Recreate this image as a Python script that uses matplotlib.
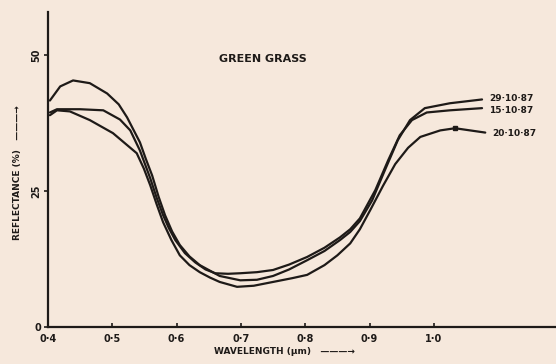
import matplotlib
matplotlib.use("Agg")
import matplotlib.pyplot as plt

# ── Data ──────────────────────────────────────────────────────────────────────
wl_a = [0.403, 0.419, 0.439, 0.465, 0.492, 0.510, 0.523, 0.543, 0.552, 0.562,
        0.572, 0.582, 0.593, 0.605, 0.620, 0.636, 0.667, 0.699, 0.725, 0.750,
        0.775, 0.803, 0.830, 0.854, 0.870, 0.885, 0.904, 0.924, 0.944, 0.963,
        0.986, 1.025, 1.075]
refl_a = [41.7, 44.3, 45.4, 44.9, 43.0, 41.0, 38.6, 34.0, 31.0, 27.9,
          24.0, 20.6, 17.6, 15.1, 13.0, 11.4, 9.4, 8.6, 8.7, 9.4,
          10.6, 12.3, 14.0, 16.0, 17.5, 19.5, 23.3, 28.9, 34.4, 38.1,
          40.3, 41.2, 41.9]

wl_b = [0.403, 0.414, 0.450, 0.486, 0.512, 0.528, 0.543, 0.559, 0.569, 0.579,
        0.588, 0.598, 0.613, 0.629, 0.645, 0.660, 0.680, 0.699, 0.725, 0.750,
        0.775, 0.803, 0.830, 0.854, 0.870, 0.885, 0.909, 0.929, 0.947, 0.966,
        0.989, 1.025, 1.075]
refl_b = [39.5, 40.1, 40.1, 39.9, 38.2, 36.2, 32.5, 27.4, 23.8, 20.6,
          18.2, 16.0, 13.6, 11.9, 10.6, 9.9, 9.8, 9.9, 10.1, 10.5,
          11.5, 12.9, 14.6, 16.5, 18.0, 20.0, 25.2, 30.7, 35.3, 38.1,
          39.5, 39.9, 40.3]

wl_c = [0.403, 0.414, 0.434, 0.465, 0.501, 0.538, 0.549, 0.559, 0.569, 0.579,
        0.592, 0.605, 0.620, 0.636, 0.652, 0.667, 0.694, 0.720, 0.750, 0.780,
        0.803, 0.830, 0.850, 0.870, 0.885, 0.901, 0.921, 0.940, 0.960, 0.979,
        1.010, 1.033, 1.080]
refl_c = [39.0, 39.9, 39.7, 38.1, 35.7, 32.0, 29.2, 26.1, 22.6, 19.3,
          16.0, 13.2, 11.4, 10.1, 9.1, 8.3, 7.4, 7.6, 8.3, 9.0,
          9.6, 11.4, 13.2, 15.4, 18.0, 21.5, 26.0, 30.0, 33.0, 35.0,
          36.2, 36.6, 35.8]

dates = ["29·10·87", "15·10·87", "20·10·87"]
xticks = [0.4, 0.5, 0.6, 0.7, 0.8, 0.9, 1.0]
xtick_labels = ["0·4", "0·5", "0·6", "0·7", "0·8", "0·9", "1·0"]
yticks = [0, 25, 50]

# ── Style ─────────────────────────────────────────────────────────────────────
PAPER = "#f6e8dc"
INK = "#1e1a18"
FONT = ["Liberation Sans Narrow", "DejaVu Sans"]
plt.rcParams["font.family"] = FONT

fig = plt.figure(figsize=(5.56, 3.64), dpi=100, facecolor=PAPER)
ax = fig.add_axes([0.0863, 0.1016, 0.9137, 0.8654], facecolor=PAPER)

series = [(wl_a, refl_a), (wl_b, refl_b), (wl_c, refl_c)]
offsets = [1, -2, -1]
for (wl, refl), label, dy in zip(series, dates, offsets):
    ax.plot(wl, refl, color=INK, linewidth=1.6, solid_capstyle="round",
            solid_joinstyle="round")
    ax.annotate(label, xy=(wl[-1], refl[-1]), xytext=(5, dy),
                textcoords="offset points", va="center", ha="left",
                fontsize=6.5, fontweight="bold", color=INK)

# small mark on the 20-10-87 curve
ax.plot(wl_c[-2], refl_c[-2], marker="s", markersize=2.5, color=INK)

ax.set_xlim(0.4, 1.19)
ax.set_ylim(0, 58)
for side in ["top", "right"]:
    ax.spines[side].set_visible(False)
for side in ["left", "bottom"]:
    ax.spines[side].set_linewidth(1.6)
    ax.spines[side].set_color(INK)

ax.set_xticks(xticks)
ax.set_xticklabels(xtick_labels, fontsize=7, fontweight="bold", color=INK)
ax.tick_params(axis="x", direction="in", length=3, width=1.2, color=INK, pad=5)
ax.set_yticks(yticks)
ax.set_yticklabels([str(v) for v in yticks], fontsize=7, fontweight="bold",
                   color=INK)
for lab in ax.get_yticklabels()[1:]:
    lab.set_rotation(90)
    lab.set_va("center")
ax.tick_params(axis="y", direction="out", length=3, width=1.2, color=INK, pad=2)

ax.text(0.423, 0.852, "GREEN GRASS", transform=ax.transAxes, ha="center",
        va="center", fontsize=8, fontweight="bold", color=INK)

fig.text(0.512, 0.033, "WAVELENGTH (\u03bcm)   \u2014\u2014\u2014\u2192",
         ha="center", va="center", fontsize=6.5, fontweight="bold", color=INK)
fig.text(0.032, 0.525, "REFLECTANCE (%)   \u2014\u2014\u2014\u2192", rotation=90,
         ha="center", va="center", fontsize=6.5, fontweight="bold", color=INK)

plt.savefig("out.png", dpi=100, facecolor=PAPER)
